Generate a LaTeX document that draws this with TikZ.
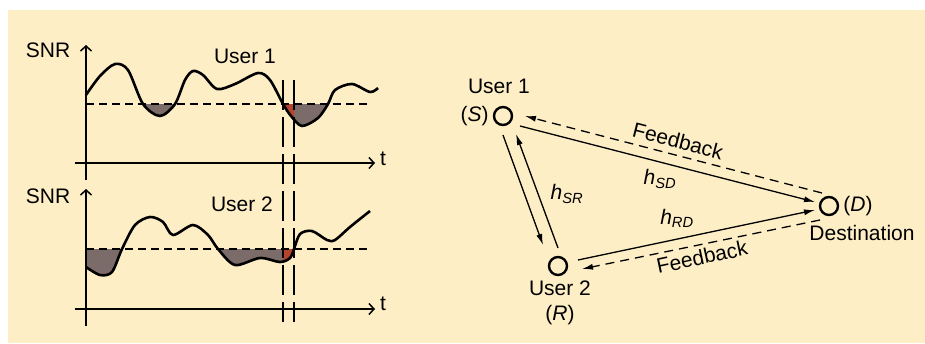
\documentclass[tikz,border=0pt]{standalone}
\usepackage{fontspec}
\setmainfont{Liberation Sans}
\usetikzlibrary{arrows.meta}

\tikzset{
    curve/.style={line width=2.6pt, line join=round},
    axis/.style={line width=1.5pt, -{Straight Barb[length=5pt,width=11pt,line width=1.5pt]}},
    level/.style={line width=1.3pt, dash pattern=on 8pt off 5pt},
    slot/.style={line width=1.3pt, dash pattern=on 30pt off 7pt},
    terminal/.style={circle, draw, line width=2.4pt, minimum size=18pt, inner sep=0pt},
    link/.style={line width=1.3pt, -{Latex[length=11pt,width=6pt]}},
    feedback/.style={link, dash pattern=on 9pt off 6pt},
    lbl/.style={font=\fontsize{21}{24}\selectfont, inner sep=0pt}
}

\begin{document}
\begin{tikzpicture}[x=1pt, y=-1pt]
    \definecolor{backColour}{HTML}{FDEEC6}
    \definecolor{fadeColour}{HTML}{7B6B69}
    \definecolor{lossColour}{HTML}{B4442C}

    \def\topPoints{(86,95) (100,76) (115,64) (128,70) (143,104) (160,116) (175,104) (185,80) (193,71) (203,75) (217,89) (235,84) (258,73) (270,80) (283,104) (291,116) (302,126) (318,118) (328,104) (335,90) (352,84) (370,92) (378,88)}
    \def\lowPoints{(86,267) (100,275) (112,272) (122,249) (135,225) (150,217) (163,222) (173,235) (193,225) (208,235) (218,249) (235,265) (260,258) (280,262) (290,258) (294,249) (300,234) (312,231) (327,240) (335,240) (350,227) (370,211)}

    % Background
    \useasboundingbox (0,0) rectangle (925,343);
    \fill[white] (0,0) rectangle (925,343);
    \fill[backColour] (8,10) rectangle (925,343);

    % Shaded fades below the threshold
    \begin{scope}
        \clip (86,104) rectangle (380,150);
        \fill[fadeColour] plot[smooth] coordinates {\topPoints} -- (378,40) -- (86,40) -- cycle;
        \clip (283,104) rectangle (294,150);
        \fill[lossColour] plot[smooth] coordinates {\topPoints} -- (378,40) -- (86,40) -- cycle;
    \end{scope}
    \begin{scope}
        \clip (86,249) rectangle (380,290);
        \fill[fadeColour] plot[smooth] coordinates {\lowPoints} -- (370,190) -- (86,190) -- cycle;
        \clip (283,249) rectangle (294,290);
        \fill[lossColour] plot[smooth] coordinates {\lowPoints} -- (370,190) -- (86,190) -- cycle;
    \end{scope}

    % Draw axes
    \foreach \base/\top in {163/45, 309/189} {
        \draw[axis] (86,\base+17) -- (86,\top);
        \draw[axis] (75,\base) -- (375,\base);
    }
    \node[lbl] (snrA) at (48,50) {SNR};
    \node[lbl] (snrB) at (48,196) {SNR};
    \node[lbl] (tA) at (383,159) {t};
    \node[lbl] (tB) at (383,304) {t};
    \node[lbl] (userA) at (245,56) {User 1};
    \node[lbl] (userB) at (242,204) {User 2};

    % Thresholds and time slot
    \draw[level] (86,104) -- (367,104);
    \draw[level] (86,249) -- (367,249);
    \draw[slot] (283,80) -- (283,322);
    \draw[slot] (294,80) -- (294,322);

    % SNR curves
    \draw[curve] plot[smooth] coordinates {\topPoints};
    \draw[curve] plot[smooth] coordinates {\lowPoints};

    % Relay network
    \node[terminal] (u1) at (503,116) {};
    \node[terminal] (u2) at (558,266) {};
    \node[terminal] (dst) at (829,206) {};

    \node[lbl] (u1name) at (499,86) {User 1};
    \node[lbl, left=4pt] (u1role) at (u1.west) {(\textit{S})};
    \node[lbl] (u2name) at (560,288) {User 2};
    \node[lbl] (u2role) at (560,315) {(\textit{R})};
    \node[lbl, right=4pt] (dstrole) at (dst.east) {(\textit{D})};
    \node[lbl] (dstname) at (862,233) {Destination};

    \draw[link] ([shift={(17,10)}]u1.center) -- ([shift={(-14,-4)}]dst.center);
    \draw[feedback] ([shift={(-7,-13)}]dst.center) -- ([shift={(22,0)}]u1.center);
    \draw[link] ([shift={(0,19)}]u1.center) -- ([shift={(-15,-21)}]u2.center);
    \draw[link] ([shift={(0,-18)}]u2.center) -- ([shift={(13,18)}]u1.center);
    \draw[link] ([shift={(20,-6)}]u2.center) -- ([shift={(-14,4)}]dst.center);
    \draw[feedback] ([shift={(-9,14)}]dst.center) -- ([shift={(24,3)}]u2.center);

    \node[lbl, rotate=-14.5] (fbA) at (678,141) {Feedback};
    \node[lbl, rotate=12] (fbB) at (702,257) {Feedback};
    \node[lbl] (hsd) at (660,179) {\textit{h}\textsubscript{\textit{SD}}};
    \node[lbl] (hsr) at (567,194) {\textit{h}\textsubscript{\textit{SR}}};
    \node[lbl] (hrd) at (677,218) {\textit{h}\textsubscript{\textit{RD}}};

\end{tikzpicture}
\end{document}
